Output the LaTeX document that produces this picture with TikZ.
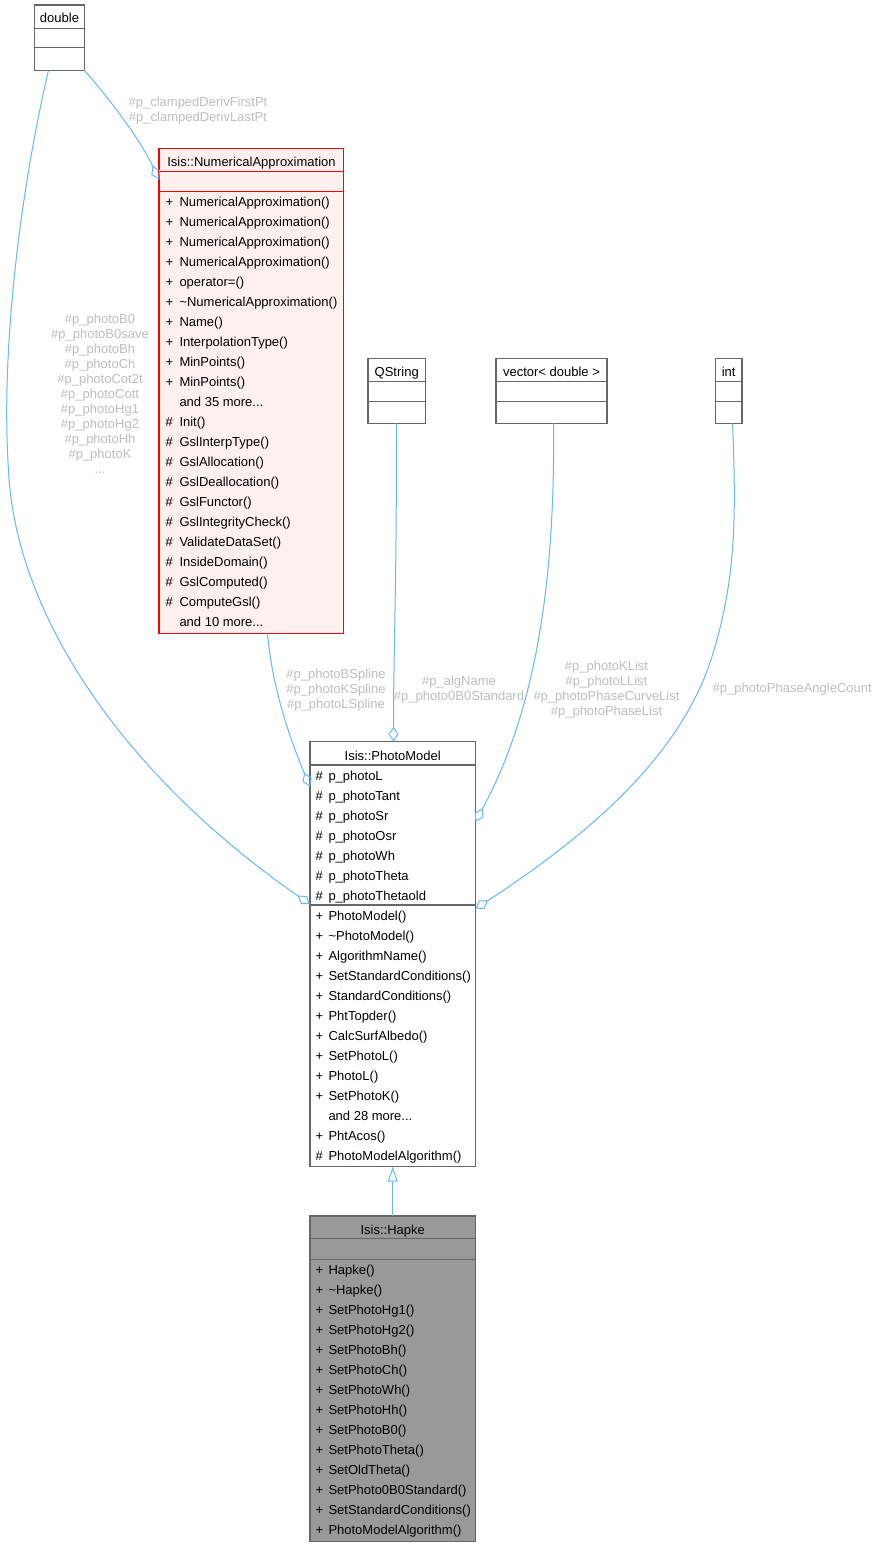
\documentclass[tikz,border=0pt]{standalone}
\usepackage{fontspec}
\setmainfont{Liberation Sans}
\usetikzlibrary{arrows.meta,calc}
\definecolor{edgeblue}{HTML}{63B8FF}
\definecolor{boxgray}{HTML}{666666}
\definecolor{lblgray}{HTML}{BEBEBE}
\definecolor{napink}{HTML}{FFF0F0}
\definecolor{hapkefill}{HTML}{999999}
\definecolor{nared}{HTML}{FF0000}
% name, x1, y1, x2, y2, sep1, sep2, border colour, fill colour
\newcommand\umlbox[9]{%
  \node[clsbox,draw=#8,fill=#9,minimum width={(#4-#2)*1pt},minimum height={(#5-#3)*1pt}] (#1) at ({(#2+#4)/2},{(#3+#5)/2}) {};
  \draw[sepline,draw=#8] (#2,#6) -- (#4,#6) (#2,#7) -- (#4,#7);
}
\begin{document}
\begin{tikzpicture}[x=1pt,y=-1pt,
  clsbox/.style={line width=1.2pt, inner sep=0pt, outer sep=0pt},
  sepline/.style={line width=1.2pt},
  memtext/.style={font=\fontsize{13}{15}\selectfont, anchor=base west, inner sep=0pt, outer sep=0pt},
  titletext/.style={font=\fontsize{13}{15}\selectfont, anchor=base, inner sep=0pt, outer sep=0pt},
  lbltext/.style={font=\fontsize{13}{15}\selectfont, text=lblgray, align=center, anchor=north, inner sep=0pt, outer sep=0pt},
  aggr/.style={draw=edgeblue, line width=1pt, -{Diamond[open,length=15pt,width=10pt]}},
  inher/.style={draw=edgeblue, line width=1pt, -{Triangle[open,length=15pt,width=10pt]}},
]
\path[fill=white] (0,0) rectangle (877,1547);

% ---------- boxes ----------
\umlbox{dbl}{34}{5}{84}{70.5}{28.3}{47.8}{boxgray}{white}
\umlbox{na}{158.5}{148.5}{343.3}{633.3}{171.5}{191.5}{nared}{napink}
\umlbox{qs}{367.5}{358.5}{425}{423.3}{381.5}{401.5}{boxgray}{white}
\umlbox{vec}{495.5}{358.5}{606.5}{423.3}{381.5}{401.5}{boxgray}{white}
\umlbox{int}{715}{358.5}{741.5}{423.3}{381.5}{401.5}{boxgray}{white}
\umlbox{pm}{309.5}{741.7}{475}{1166.7}{765}{905}{boxgray}{white}
\umlbox{hp}{309.5}{1216}{475}{1541.5}{1238.5}{1259.3}{boxgray}{hapkefill}

% ---------- titles ----------
\node[titletext] (dbl-t) at (59,22.5) {double};
\node[titletext] (na-t) at (251,166.5) {Isis::NumericalApproximation};
\node[titletext] (qs-t) at (396.2,376) {QString};
\node[titletext] (vec-t) at (551,376) {vector< double >};
\node[titletext] (int-t) at (728.2,376) {int};
\node[titletext] (pm-t) at (392.2,760.5) {Isis::PhotoModel};
\node[titletext] (hp-t) at (392.2,1234.5) {Isis::Hapke};

% ---------- NumericalApproximation members ----------
\foreach \r/\s/\t in {0/+/NumericalApproximation(), 1/+/NumericalApproximation(),
  2/+/NumericalApproximation(), 3/+/NumericalApproximation(), 4/+/operator=(),
  5/+/\textasciitilde NumericalApproximation(), 6/+/Name(), 7/+/InterpolationType(),
  8/+/MinPoints(), 9/+/MinPoints(), 11/\#/Init(), 12/\#/GslInterpType(),
  13/\#/GslAllocation(), 14/\#/GslDeallocation(), 15/\#/GslFunctor(),
  16/\#/GslIntegrityCheck(), 17/\#/ValidateDataSet(), 18/\#/InsideDomain(),
  19/\#/GslComputed(), 20/\#/ComputeGsl()} {
  \node[memtext] (na-s\r) at (165,{201+\r*20+5}) {\s};
  \node[memtext] (na-m\r) at (179,{201+\r*20+5}) {\t};
}
\node[memtext] (na-m10) at (179,{201+10*20+5}) {and 35 more...};
\node[memtext] (na-m21) at (179,{201+21*20+5}) {and 10 more...};

% ---------- PhotoModel attributes ----------
\foreach \r/\t in {0/p\_photoL, 1/p\_photoTant, 2/p\_photoSr, 3/p\_photoOsr,
  4/p\_photoWh, 5/p\_photoTheta, 6/p\_photoThetaold} {
  \node[memtext] (pa-s\r) at (315,{775+\r*20+5}) {\#};
  \node[memtext] (pa-m\r) at (328,{775+\r*20+5}) {\t};
}
% ---------- PhotoModel methods ----------
\foreach \r/\s/\t in {0/+/PhotoModel(), 1/+/\textasciitilde PhotoModel(),
  2/+/AlgorithmName(), 3/+/SetStandardConditions(), 4/+/StandardConditions(),
  5/+/PhtTopder(), 6/+/CalcSurfAlbedo(), 7/+/SetPhotoL(), 8/+/PhotoL(),
  9/+/SetPhotoK(), 11/+/PhtAcos(), 12/\#/PhotoModelAlgorithm()} {
  \node[memtext] (pm-s\r) at (315,{915+\r*20+5}) {\s};
  \node[memtext] (pm-m\r) at (328,{915+\r*20+5}) {\t};
}
\node[memtext] (pm-m10) at (328,{915+10*20+5}) {and 28 more...};

% ---------- Hapke methods ----------
\foreach \r/\t in {0/Hapke(), 1/\textasciitilde Hapke(), 2/SetPhotoHg1(),
  3/SetPhotoHg2(), 4/SetPhotoBh(), 5/SetPhotoCh(), 6/SetPhotoWh(),
  7/SetPhotoHh(), 8/SetPhotoB0(), 9/SetPhotoTheta(), 10/SetOldTheta(),
  11/SetPhoto0B0Standard(), 12/SetStandardConditions(), 13/PhotoModelAlgorithm()} {
  \node[memtext] (hp-s\r) at (315,{1269+\r*20+5}) {+};
  \node[memtext] (hp-m\r) at (328,{1269+\r*20+5}) {\t};
}

% ---------- connectors ----------
\draw[aggr] (dbl.south east) .. controls (110,100) and (140,140) .. ($(na.north west)+(0,31)$);
\draw[aggr] ([xshift=-11pt]dbl.south) .. controls (20,190) and (0,350) .. (8,470)
   .. controls (15,620) and (130,780) .. ($(pm.north west)+(0,162.5)$);
\draw[aggr] ($(na.south west)+(108.5,0)$) .. controls (272,690) and (290,740) .. ($(pm.north west)+(0,45)$);
\draw[aggr] ($(qs.south west)+(28.5,0)$) .. controls (396,600) and (393,650) .. ($(pm.north west)+(83.5,0)$);
\draw[aggr] ($(vec.south west)+(57.5,0)$) .. controls (555,600) and (530,720) .. ($(pm.north east)+(0,80)$);
\draw[aggr] ($(int.south west)+(17,0)$) .. controls (736,520) and (735,580) .. (712,655)
   .. controls (680,760) and (580,840) .. ($(pm.north east)+(0,167)$);
\draw[inher] (hp.north) -- (hp.north |- pm.south);

% ---------- connector labels ----------
\node[lbltext] (l-clamp) at (197.5,96.2) {\strut\#p\_clampedDerivFirstPt\\\#p\_clampedDerivLastPt};
\node[lbltext] (l-dbl) at (99.5,312.5) {\strut\#p\_photoB0\\\#p\_photoB0save\\\#p\_photoBh\\\#p\_photoCh\\\#p\_photoCot2t\\\#p\_photoCott\\\#p\_photoHg1\\\#p\_photoHg2\\\#p\_photoHh\\\#p\_photoK\\...};
\node[lbltext] (l-spl) at (335.5,667.8) {\strut\#p\_photoBSpline\\\#p\_photoKSpline\\\#p\_photoLSpline};
\node[lbltext] (l-qs) at (458.5,674.5) {\strut\#p\_algName\\\#p\_photo0B0Standard};
\node[lbltext] (l-vec) at (606,659.5) {\strut\#p\_photoKList\\\#p\_photoLList\\\#p\_photoPhaseCurveList\\\#p\_photoPhaseList};
\node[lbltext] (l-int) at (791.7,682.2) {\strut\#p\_photoPhaseAngleCount};
\end{tikzpicture}
\end{document}
